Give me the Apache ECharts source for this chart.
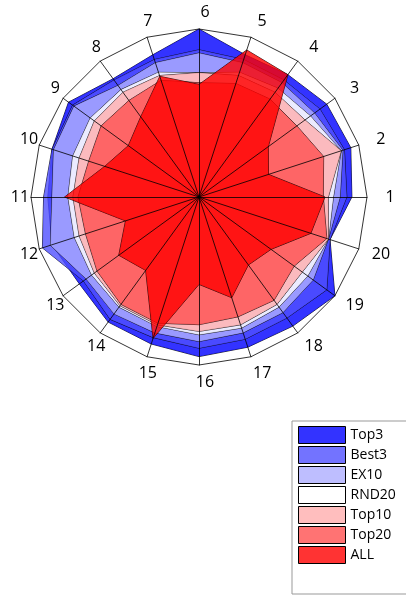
<!DOCTYPE html>
<html>
<head>
<meta charset="utf-8">
<script src="https://cdn.jsdelivr.net/npm/echarts@6/dist/echarts.min.js"></script>
<style>
html, body { margin: 0; padding: 0; background: #fff; }
#chart { width: 406px; height: 596px; }
</style>
</head>
<body>
<div id="chart"></div>
<script>
// axis names, counter-clockwise from the right
var axisNames = ['1','2','3','4','5','6','7','8','9','10','11','12','13','14','15','16','17','18','19','20'];
var seriesNames = ['Top3','Best3','EX10','RND20','Top10','Top20','ALL'];

var top3  = [0.91,0.95,0.94,0.90,0.89,1.00,0.89,0.87,0.96,0.92,0.90,0.92,0.88,0.92,0.92,0.95,0.94,0.95,1.00,0.82];
var best3 = [0.88,0.91,0.89,0.86,0.86,0.876,0.86,0.86,0.93,0.92,0.925,0.98,0.85,0.90,0.88,0.90,0.89,0.89,0.94,0.82];
var ex10  = [0.84,0.90,0.85,0.84,0.84,0.857,0.84,0.82,0.92,0.91,0.875,0.93,0.83,0.86,0.85,0.86,0.85,0.85,0.84,0.81];
var rnd20 = [0.80,0.89,0.82,0.80,0.78,0.74,0.78,0.79,0.80,0.79,0.78,0.78,0.79,0.81,0.81,0.82,0.82,0.81,0.80,0.81];
var top10 = [0.77,0.89,0.78,0.77,0.76,0.74,0.76,0.77,0.77,0.75,0.75,0.75,0.77,0.80,0.80,0.80,0.80,0.79,0.76,0.81];
var top20 = [0.74,0.78,0.72,0.72,0.71,0.68,0.73,0.71,0.72,0.69,0.72,0.71,0.75,0.79,0.79,0.76,0.75,0.76,0.70,0.80];
var all   = [0.75,0.435,0.51,0.90,0.92,0.67,0.755,0.59,0.52,0.59,0.80,0.46,0.59,0.54,0.885,0.52,0.63,0.50,0.53,0.70];

var seriesValues = [top3, best3, ex10, rnd20, top10, top20, all];
var colors = [
    'rgba(0,0,255,0.8)',
    'rgba(80,80,255,0.8)',
    'rgba(174,174,255,0.8)',
    'rgba(255,255,255,0.8)',
    'rgba(255,174,174,0.8)',
    'rgba(255,80,80,0.8)',
    'rgba(255,0,0,0.8)'
];

var indicators = [];
for (var i = 0; i < axisNames.length; i++) {
    indicators.push({name: axisNames[i], min: 0, max: 1});
}

var series = [];
for (var k = 0; k < seriesNames.length; k++) {
    series.push({
        name: seriesNames[k],
        type: 'radar',
        z: 2,
        symbol: 'none',
        silent: true,
        itemStyle: { color: colors[k] },
        lineStyle: { color: '#000', width: 0.8 },
        areaStyle: { color: colors[k], opacity: 1 },
        data: [{ name: seriesNames[k], value: seriesValues[k] }]
    });
}

var option = {
    backgroundColor: '#fff',
    animation: false,
    legend: {
        orient: 'vertical',
        left: 292,
        top: 421,
        padding: [5, 30, 30, 6],
        itemWidth: 47,
        itemHeight: 17,
        itemGap: 2,
        icon: 'rect',
        borderColor: '#999',
        borderWidth: 1,
        backgroundColor: '#fff',
        selectedMode: false,
        itemStyle: { borderColor: '#000', borderWidth: 1 },
        textStyle: { fontFamily: 'Open Sans', fontSize: 14, color: '#000', width: 60 },
        data: seriesNames
    },
    radar: {
        z: 5,
        center: [199, 197],
        radius: 168,
        startAngle: 0,
        shape: 'polygon',
        splitNumber: 1,
        indicator: indicators,
        nameGap: 17,
        axisName: {
            color: '#000',
            fontSize: 16,
            fontFamily: 'Open Sans',
            align: 'center',
            verticalAlign: 'middle',
            padding: [0, 0, 0, 12]
        },
        axisLine: { lineStyle: { color: '#000', width: 0.8 } },
        splitLine: { lineStyle: { color: '#000', width: 0.8 } },
        splitArea: { show: false },
        axisTick: { show: false },
        axisLabel: { show: false }
    },
    series: series
};

var chart = echarts.init(document.getElementById('chart'));
chart.setOption(option);
</script>
</body>
</html>
